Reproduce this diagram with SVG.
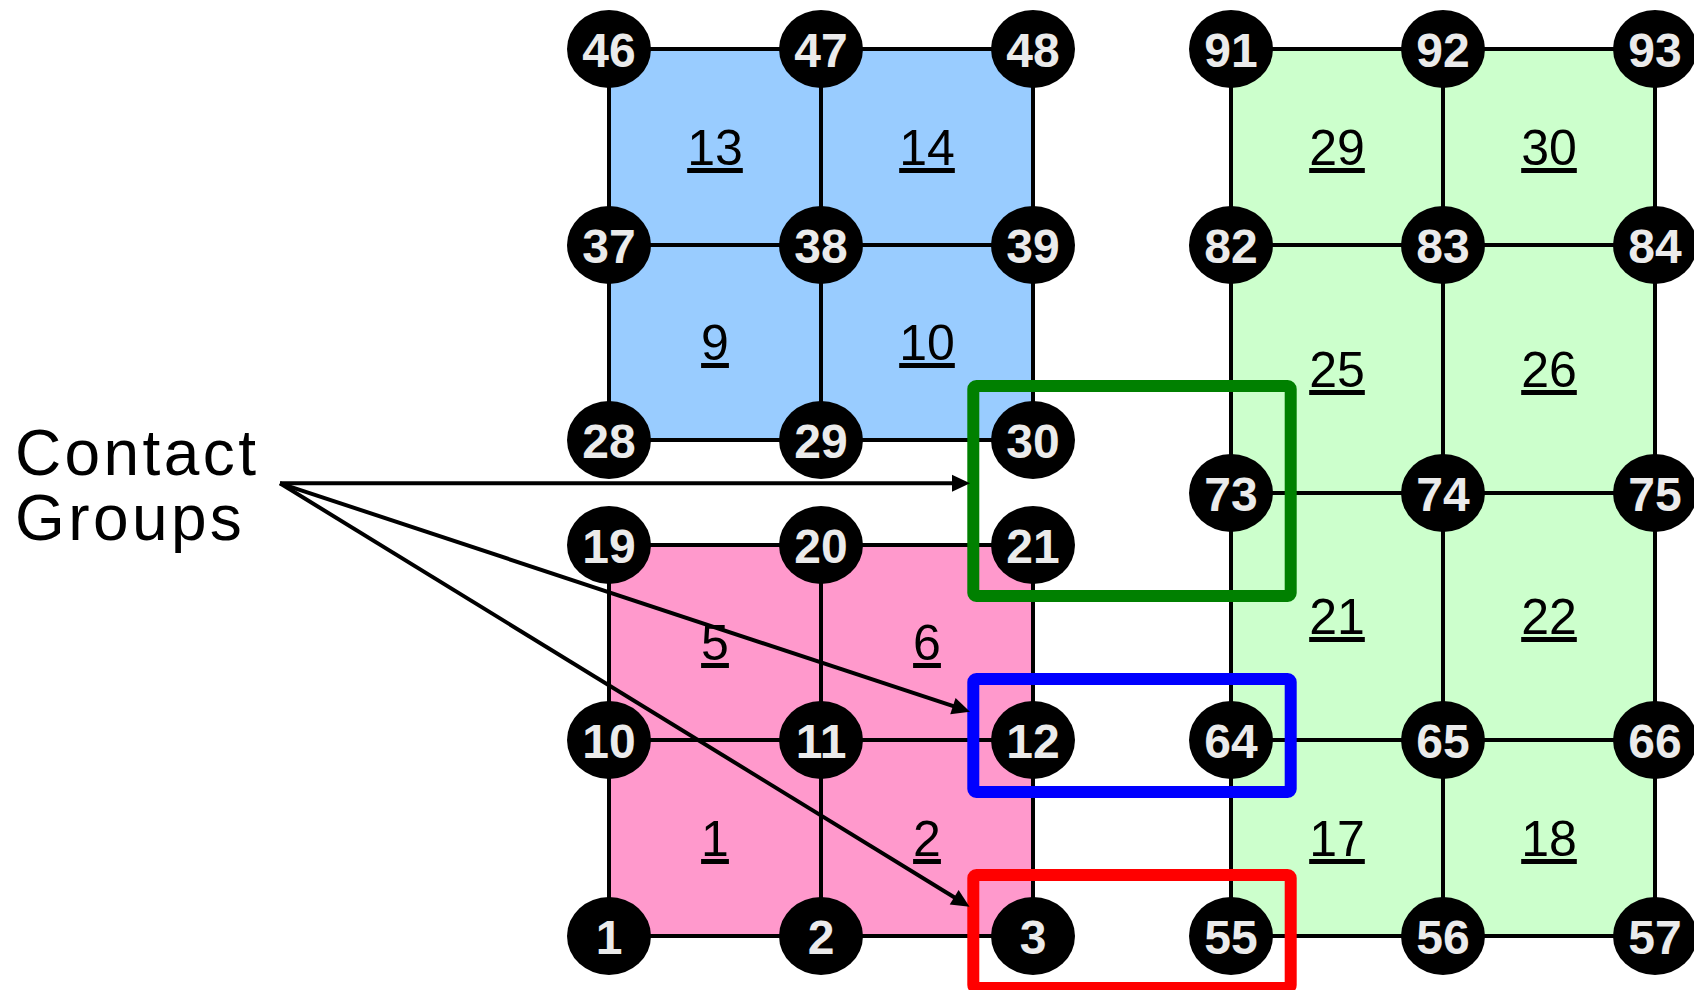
<svg xmlns="http://www.w3.org/2000/svg" width="1694" height="990" viewBox="0 0 1694 990">
  <style>
    .grid { stroke: #000; stroke-width: 4; fill: none; }
    .node ellipse { fill: #000; }
    .node text { fill: #ebebeb; font-family: "Liberation Sans", Arial, sans-serif; font-weight: bold; font-size: 48px; text-anchor: middle; }
    .elem { fill: #000; font-family: "Liberation Sans", Arial, sans-serif; font-size: 50px; text-anchor: middle; text-decoration: underline; }
    .box { fill: none; stroke-width: 12; }
    .arrow { stroke: #000; stroke-width: 4; fill: none; marker-end: url(#ah); }
    .title { fill: #000; font-family: "Liberation Sans", Arial, sans-serif; font-size: 64px; letter-spacing: 3.4px; }
  </style>
  <defs>
    <marker id="ah" markerUnits="userSpaceOnUse" markerWidth="18" markerHeight="17" refX="10" refY="8.5" orient="auto" overflow="visible">
      <path d="M0,0 L18,8.5 L0,17 Z" fill="#000"/>
    </marker>
  </defs>

  <g id="regions">
    <rect x="609" y="49" width="424" height="391" fill="#99ccff"/>
    <rect x="609" y="545" width="424" height="391" fill="#ff99cc"/>
    <rect x="1231" y="49" width="424" height="887" fill="#ccffcc"/>
  </g>

  <g id="mesh" class="grid">
    <path d="M609,49 H1033 M609,245 H1033 M609,440 H1033 M609,49 V440 M821,49 V440 M1033,49 V440"/>
    <path d="M609,545 H1033 M609,740 H1033 M609,936 H1033 M609,545 V936 M821,545 V936 M1033,545 V936"/>
    <path d="M1231,49 H1655 M1231,245 H1655 M1231,493 H1655 M1231,740 H1655 M1231,936 H1655 M1231,49 V936 M1443,49 V936 M1655,49 V936"/>
  </g>

  <g id="elements">
    <text class="elem" x="715" y="165">13</text>
    <text class="elem" x="927" y="165">14</text>
    <text class="elem" x="715" y="360">9</text>
    <text class="elem" x="927" y="360">10</text>
    <text class="elem" x="715" y="660">5</text>
    <text class="elem" x="927" y="660">6</text>
    <text class="elem" x="715" y="856">1</text>
    <text class="elem" x="927" y="856">2</text>
    <text class="elem" x="1337" y="165">29</text>
    <text class="elem" x="1549" y="165">30</text>
    <text class="elem" x="1337" y="387">25</text>
    <text class="elem" x="1549" y="387">26</text>
    <text class="elem" x="1337" y="634">21</text>
    <text class="elem" x="1549" y="634">22</text>
    <text class="elem" x="1337" y="856">17</text>
    <text class="elem" x="1549" y="856">18</text>
  </g>

  <g id="nodes">
    <g id="n46" class="node"><ellipse cx="609" cy="49" rx="42" ry="39"/><text x="609" y="67">46</text></g>
    <g id="n47" class="node"><ellipse cx="821" cy="49" rx="42" ry="39"/><text x="821" y="67">47</text></g>
    <g id="n48" class="node"><ellipse cx="1033" cy="49" rx="42" ry="39"/><text x="1033" y="67">48</text></g>
    <g id="n37" class="node"><ellipse cx="609" cy="245" rx="42" ry="39"/><text x="609" y="263">37</text></g>
    <g id="n38" class="node"><ellipse cx="821" cy="245" rx="42" ry="39"/><text x="821" y="263">38</text></g>
    <g id="n39" class="node"><ellipse cx="1033" cy="245" rx="42" ry="39"/><text x="1033" y="263">39</text></g>
    <g id="n28" class="node"><ellipse cx="609" cy="440" rx="42" ry="39"/><text x="609" y="458">28</text></g>
    <g id="n29" class="node"><ellipse cx="821" cy="440" rx="42" ry="39"/><text x="821" y="458">29</text></g>
    <g id="n30" class="node"><ellipse cx="1033" cy="440" rx="42" ry="39"/><text x="1033" y="458">30</text></g>
    <g id="n19" class="node"><ellipse cx="609" cy="545" rx="42" ry="39"/><text x="609" y="563">19</text></g>
    <g id="n20" class="node"><ellipse cx="821" cy="545" rx="42" ry="39"/><text x="821" y="563">20</text></g>
    <g id="n21" class="node"><ellipse cx="1033" cy="545" rx="42" ry="39"/><text x="1033" y="563">21</text></g>
    <g id="n10" class="node"><ellipse cx="609" cy="740" rx="42" ry="39"/><text x="609" y="758">10</text></g>
    <g id="n11" class="node"><ellipse cx="821" cy="740" rx="42" ry="39"/><text x="821" y="758">11</text></g>
    <g id="n12" class="node"><ellipse cx="1033" cy="740" rx="42" ry="39"/><text x="1033" y="758">12</text></g>
    <g id="n1" class="node"><ellipse cx="609" cy="936" rx="42" ry="39"/><text x="609" y="954">1</text></g>
    <g id="n2" class="node"><ellipse cx="821" cy="936" rx="42" ry="39"/><text x="821" y="954">2</text></g>
    <g id="n3" class="node"><ellipse cx="1033" cy="936" rx="42" ry="39"/><text x="1033" y="954">3</text></g>
    <g id="n91" class="node"><ellipse cx="1231" cy="49" rx="42" ry="39"/><text x="1231" y="67">91</text></g>
    <g id="n92" class="node"><ellipse cx="1443" cy="49" rx="42" ry="39"/><text x="1443" y="67">92</text></g>
    <g id="n93" class="node"><ellipse cx="1655" cy="49" rx="42" ry="39"/><text x="1655" y="67">93</text></g>
    <g id="n82" class="node"><ellipse cx="1231" cy="245" rx="42" ry="39"/><text x="1231" y="263">82</text></g>
    <g id="n83" class="node"><ellipse cx="1443" cy="245" rx="42" ry="39"/><text x="1443" y="263">83</text></g>
    <g id="n84" class="node"><ellipse cx="1655" cy="245" rx="42" ry="39"/><text x="1655" y="263">84</text></g>
    <g id="n73" class="node"><ellipse cx="1231" cy="493" rx="42" ry="39"/><text x="1231" y="511">73</text></g>
    <g id="n74" class="node"><ellipse cx="1443" cy="493" rx="42" ry="39"/><text x="1443" y="511">74</text></g>
    <g id="n75" class="node"><ellipse cx="1655" cy="493" rx="42" ry="39"/><text x="1655" y="511">75</text></g>
    <g id="n64" class="node"><ellipse cx="1231" cy="740" rx="42" ry="39"/><text x="1231" y="758">64</text></g>
    <g id="n65" class="node"><ellipse cx="1443" cy="740" rx="42" ry="39"/><text x="1443" y="758">65</text></g>
    <g id="n66" class="node"><ellipse cx="1655" cy="740" rx="42" ry="39"/><text x="1655" y="758">66</text></g>
    <g id="n55" class="node"><ellipse cx="1231" cy="936" rx="42" ry="39"/><text x="1231" y="954">55</text></g>
    <g id="n56" class="node"><ellipse cx="1443" cy="936" rx="42" ry="39"/><text x="1443" y="954">56</text></g>
    <g id="n57" class="node"><ellipse cx="1655" cy="936" rx="42" ry="39"/><text x="1655" y="954">57</text></g>
  </g>

  <g id="groups">
    <rect class="box" x="973.3" y="386" width="317.4" height="210" rx="3" stroke="#008000"/>
    <rect class="box" x="973.3" y="679" width="317.4" height="113" rx="3" stroke="#0000ff"/>
    <rect class="box" x="973.3" y="875" width="317.4" height="113" rx="3" stroke="#ff0000"/>
  </g>

  <g id="label">
    <text class="title" x="15" y="475">Contact</text>
    <text class="title" x="15" y="540">Groups</text>
  </g>

  <g id="connectors">
    <path class="arrow" d="M280,483.3 L962,483.3"/>
    <path class="arrow" d="M280,483.3 L962.4,709.2"/>
    <path class="arrow" d="M280,483.3 L962.7,902.5"/>
  </g>
</svg>
